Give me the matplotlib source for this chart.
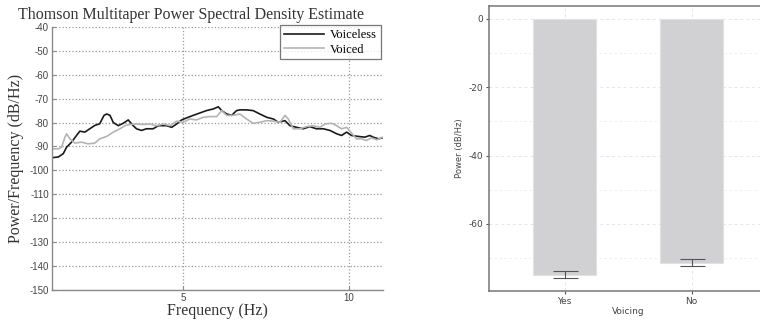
import matplotlib
matplotlib.use("Agg")
import matplotlib.pyplot as plt
from matplotlib.ticker import MultipleLocator

plt.rcParams["axes.unicode_minus"] = False

# --- left panel: multitaper PSD traces ---
freq_voiceless = [1.03, 1.23, 1.38, 1.48, 1.63, 1.78, 1.88, 2.03, 2.18, 2.33, 2.48, 2.61,
                  2.69, 2.79, 2.89, 3.04, 3.19, 3.34, 3.49, 3.59, 3.74, 3.89, 4.09, 4.25,
                  4.50, 4.65, 4.80, 4.95, 5.15, 5.30, 5.50, 5.70, 5.91, 6.06, 6.16, 6.31,
                  6.46, 6.61, 6.71, 6.91, 7.11, 7.31, 7.52, 7.72, 7.87, 8.07, 8.22, 8.42,
                  8.62, 8.82, 9.02, 9.23, 9.43, 9.63, 9.78, 9.93, 10.08, 10.28, 10.48,
                  10.63, 10.73, 10.89, 11.02]
psd_voiceless = [-94.7, -94.4, -93.0, -90.3, -88.2, -85.4, -83.6, -84.0, -82.6, -81.2,
                 -80.5, -77.0, -76.4, -77.0, -80.0, -81.3, -80.3, -78.9, -81.3, -82.6,
                 -83.3, -82.6, -82.6, -81.3, -81.3, -82.0, -80.6, -78.9, -77.8, -77.0,
                 -76.0, -75.0, -74.3, -73.4, -75.0, -76.4, -77.0, -75.0, -74.7, -74.7,
                 -75.0, -76.4, -77.8, -78.5, -79.9, -79.2, -81.3, -82.0, -82.6, -81.7,
                 -82.6, -82.6, -83.3, -84.7, -85.4, -84.0, -85.4, -85.8, -86.1, -85.4,
                 -86.1, -86.8, -86.4]

freq_voiced = [1.03, 1.23, 1.33, 1.43, 1.48, 1.58, 1.73, 1.93, 2.13, 2.33, 2.48, 2.69,
               2.89, 3.09, 3.24, 3.39, 3.59, 3.79, 3.99, 4.20, 4.40, 4.60, 4.80, 5.00,
               5.20, 5.40, 5.60, 5.80, 6.01, 6.16, 6.31, 6.51, 6.71, 6.91, 7.11, 7.31,
               7.52, 7.72, 7.92, 8.07, 8.17, 8.32, 8.52, 8.72, 8.92, 9.12, 9.28, 9.48,
               9.63, 9.78, 9.93, 10.08, 10.23, 10.38, 10.53, 10.68, 10.84, 11.02]
psd_voiced = [-91.0, -91.0, -90.3, -86.1, -84.7, -86.8, -88.6, -88.2, -88.9, -88.6,
              -86.8, -85.8, -84.0, -82.6, -81.3, -80.8, -80.6, -80.8, -80.6, -81.3,
              -80.6, -81.3, -79.4, -79.9, -78.5, -78.9, -77.8, -77.5, -77.5, -75.0,
              -77.0, -77.0, -76.4, -78.5, -80.3, -79.9, -79.2, -79.4, -79.9, -77.0,
              -78.5, -82.6, -82.6, -81.7, -81.3, -82.0, -80.6, -80.3, -81.3, -82.6,
              -82.0, -84.4, -86.8, -86.8, -87.5, -86.4, -87.2, -86.1]

# --- right panel: mean power by voicing ---
voicing = ["Yes", "No"]
power_mean = [-74.9, -71.3]
power_err = [1.0, 1.0]

fig = plt.figure(figsize=(7.6, 3.24), dpi=100)

# left: PSD
ax1 = fig.add_axes([0.068, 0.105, 0.436, 0.812])
ax1.plot(freq_voiceless, psd_voiceless, color="#1a1a1a", lw=1.2, label="Voiceless")
ax1.plot(freq_voiced, psd_voiced, color="#b4b4b4", lw=1.2, label="Voiced")
ax1.set_xlim(1.03, 11.03)
ax1.set_ylim(-150, -40)
ax1.set_xticks([5, 10])
ax1.set_yticks(range(-150, -39, 10))
ax1.grid(True, linestyle=":", color="#9a9a9a", lw=0.9)
for s in ["top", "right"]:
    ax1.spines[s].set_visible(False)
for s in ["left", "bottom"]:
    ax1.spines[s].set_color("#8a8a8a")
    ax1.spines[s].set_linewidth(1.0)
ax1.tick_params(direction="in", length=3, color="#8a8a8a", labelsize=7,
                labelcolor="#444444", pad=2)
for lab in ax1.get_xticklabels() + ax1.get_yticklabels():
    lab.set_family("Liberation Sans")
ax1.set_title("Thomson Multitaper Power Spectral Density Estimate",
              family="Liberation Serif", fontsize=11.5, color="#333333", pad=6, x=0.42)
ax1.set_xlabel("Frequency (Hz)", family="Liberation Serif", fontsize=11.5,
               color="#333333", labelpad=0)
ax1.set_ylabel("Power/Frequency (dB/Hz)", family="Liberation Serif", fontsize=11.5,
               color="#333333", labelpad=4)
leg = ax1.legend(loc="upper right", bbox_to_anchor=(1.0, 1.015),
                 prop={"family": "Liberation Serif", "size": 9},
                 handlelength=3.2, frameon=True, fancybox=False, borderpad=0.3,
                 labelspacing=0.2, handletextpad=0.5, borderaxespad=0.2)
leg.get_frame().set_edgecolor("#555555")
leg.get_frame().set_linewidth(0.9)

# right: bar chart with error bars
ax2 = fig.add_axes([0.643, 0.102, 0.367, 0.88])
pos = [1, 2]
ax2.bar(pos, power_mean, width=0.5, color="#d1d1d3", edgecolor="#e2e2e2", lw=0.8, zorder=2)
ax2.errorbar(pos, power_mean, yerr=power_err, fmt="none", ecolor="#555555",
             elinewidth=0.8, capsize=9, capthick=0.8, zorder=3)
ax2.set_xlim(0.4, 2.6)
ax2.set_ylim(-79.6, 3.8)
ax2.set_xticks(pos)
ax2.set_xticklabels(voicing)
ax2.set_yticks([0, -20, -40, -60])
ax2.yaxis.set_minor_locator(MultipleLocator(10))
ax2.grid(True, which="major", linestyle=(0, (3, 3)), color="#e6e6e6", lw=0.7, zorder=0)
ax2.grid(True, which="minor", axis="y", linestyle=(0, (3, 3)), color="#eeeeee", lw=0.6, zorder=0)
ax2.tick_params(which="minor", length=0)
ax2.tick_params(which="major", direction="out", length=2, color="#555555", labelsize=6.5,
                labelcolor="#444444", pad=2)
for s in ax2.spines.values():
    s.set_color("#777777")
    s.set_linewidth(1.1)
ax2.set_xlabel("Voicing", fontsize=6.5, color="#444444", labelpad=1)
ax2.set_ylabel("Power (dB/Hz)", fontsize=6, color="#444444", labelpad=3)

fig.savefig("out.png", dpi=100)
